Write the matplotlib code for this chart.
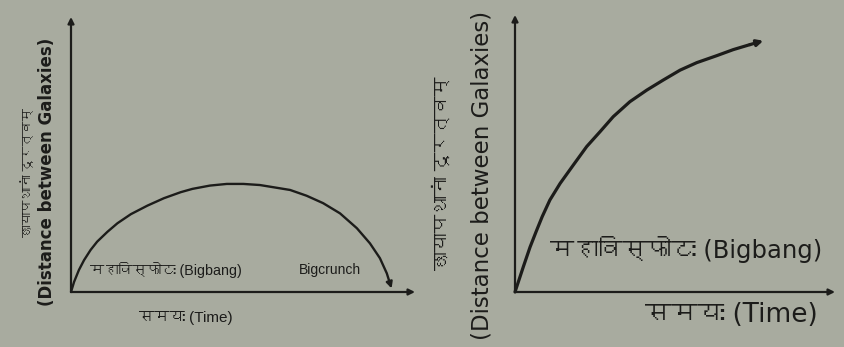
import matplotlib
matplotlib.use('Agg')
import matplotlib.pyplot as plt
from matplotlib import font_manager, ft2font

# left chart: expansion then collapse (Bigcrunch)
crunch_t = [0.0, 0.09, 0.23, 0.38, 0.57, 0.76, 1.06, 1.35, 1.74, 2.22, 2.70, 3.19, 3.53, 4.04,
            4.53, 5.01, 5.49, 5.98, 6.37, 6.85, 7.33, 7.82, 8.31, 8.69, 8.98, 9.18, 9.27, 9.32]
crunch_d = [0.0, 0.37, 0.80, 1.16, 1.53, 1.83, 2.19, 2.50, 2.83, 3.14, 3.41, 3.63, 3.75, 3.87,
            3.93, 3.93, 3.89, 3.79, 3.71, 3.50, 3.23, 2.86, 2.32, 1.77, 1.23, 0.68, 0.32, 0.13]

# right chart: ever-expanding
expand_t = [0.0, 0.26, 0.47, 0.66, 0.85, 1.09, 1.41, 1.82, 2.24, 2.66, 3.07, 3.59, 4.12,
            4.63, 5.16, 5.68, 6.30, 6.82, 7.34, 7.76]
expand_d = [0.0, 0.91, 1.62, 2.18, 2.72, 3.32, 3.92, 4.58, 5.25, 5.79, 6.33, 6.87, 7.29,
            7.65, 8.01, 8.28, 8.53, 8.75, 8.93, 9.07]

ylabel_hi = 'छायापथानां दूरत्वम्'
ylabel_en = '(Distance between Galaxies)'
bigbang = 'महाविस्फोटः (Bigbang)'
bigcrunch = 'Bigcrunch'
time_lbl = 'समयः (Time)'

bg = '#a8ab9f'
ink = '#1c1c1a'

# find any installed font that has Devanagari glyphs
deva = []
for f in font_manager.fontManager.ttflist:
    try:
        if 0x0915 in ft2font.FT2Font(f.fname).get_charmap():
            if f.name not in deva:
                deva.append(f.name)
    except Exception:
        pass
plt.rcParams['font.family'] = ['DejaVu Sans'] + deva
narrow = ['Liberation Sans Narrow', 'Liberation Sans'] + deva + ['DejaVu Sans']

W, H = 845, 347
fig = plt.figure(figsize=(W / 100, H / 100), dpi=100, facecolor=bg)


def make_axes(x0, x1, y_top, y_bot):
    ax = fig.add_axes([x0 / W, (H - y_bot) / H, (x1 - x0) / W, (y_bot - y_top) / H])
    ax.set_xlim(0, 10)
    ax.set_ylim(0, 10)
    ax.axis('off')
    arrow = dict(arrowstyle='-|>', color=ink, lw=1.6, mutation_scale=9, shrinkA=0, shrinkB=0)
    ax.annotate('', xy=(10, 0), xytext=(0, 0), arrowprops=arrow, annotation_clip=False)
    ax.annotate('', xy=(0, 10), xytext=(0, 0), arrowprops=arrow, annotation_clip=False)
    return ax


def curve(ax, t, d, lw):
    ax.plot(t[:-1], d[:-1], color=ink, lw=lw, solid_capstyle='round',
            solid_joinstyle='round', clip_on=False)
    ax.annotate('', xy=(t[-1], d[-1]), xytext=(t[-2], d[-2]),
                arrowprops=dict(arrowstyle='-|>', color=ink, lw=lw, mutation_scale=9,
                                shrinkA=0, shrinkB=0), annotation_clip=False)


# left panel
ax1 = make_axes(71, 415, 17, 292)
curve(ax1, crunch_t, crunch_d, 1.7)
ax1.text(0.55, 0.8, bigbang, fontsize=10.3, family=narrow, color=ink, ha='left', va='center')
ax1.text(7.53, 0.8, bigcrunch, fontsize=10, family=narrow, color=ink, ha='center', va='center')
ax1.text(3.34, -0.95, time_lbl, fontsize=11, family=narrow, color=ink, ha='center', va='center')
ax1.text(-1.25, 4.36, ylabel_hi, fontsize=9, color=ink, rotation=90, ha='center', va='center')
ax1.text(-0.70, 4.36, ylabel_en, fontsize=12, fontweight='bold', color=ink, rotation=90,
         ha='center', va='center')

# right panel
ax2 = make_axes(515, 835, 15, 292)
curve(ax2, expand_t, expand_d, 2.3)
ax2.text(1.09, 1.52, bigbang, fontsize=17.5, color=ink, ha='left', va='center')
ax2.text(6.75, -0.83, time_lbl, fontsize=19, color=ink, ha='center', va='center')
ax2.text(-2.28, 4.3, ylabel_hi, fontsize=13.5, color=ink, rotation=90, ha='center', va='center')
ax2.text(-1.03, 4.2, ylabel_en, fontsize=16.5, color=ink, rotation=90, ha='center', va='center')

fig.savefig('out.png', dpi=100, facecolor=bg)
